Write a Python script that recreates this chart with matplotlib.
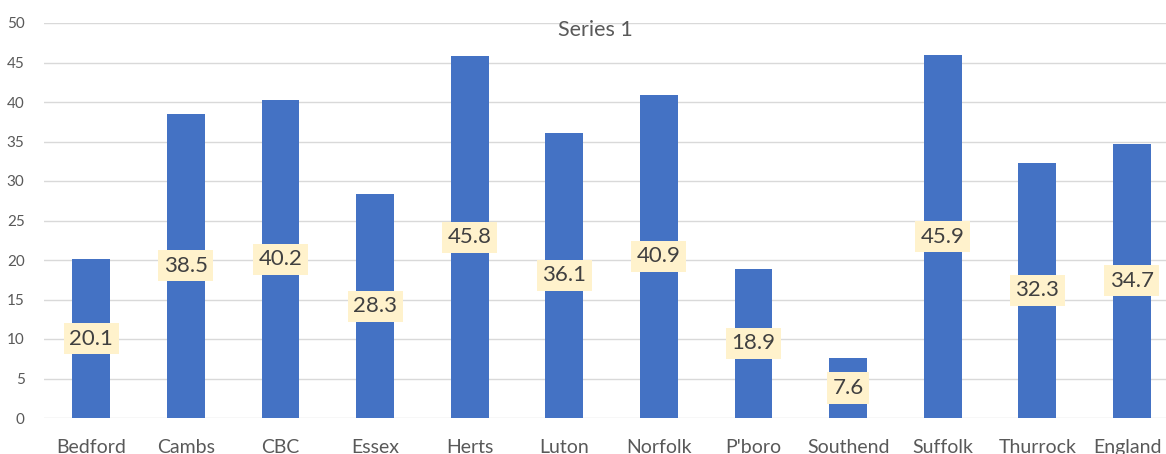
import numpy as np
import matplotlib.pyplot as plt
from matplotlib.transforms import ScaledTranslation

# data
areas = ["Bedford", "Cambs", "CBC", "Essex", "Herts", "Luton", "Norfolk",
         "P'boro", "Southend", "Suffolk", "Thurrock", "England"]
values = [20.1, 38.5, 40.2, 28.3, 45.8, 36.1, 40.9, 18.9, 7.6, 45.9, 32.3, 34.7]
y_ticks = list(range(0, 51, 5))

plt.rcParams['font.family'] = ['Lato', 'DejaVu Sans']
TXT = "#595959"

W, H = 1166, 454
fig = plt.figure(figsize=(W / 100, H / 100), dpi=100)
ax = fig.add_axes([44 / W, 36 / H, (W - 44) / W, 395 / H])

x = np.arange(len(areas))
ax.bar(x, values, width=0.4, color="#4472C4", zorder=3)

for xi, v in zip(x, values):
    ax.text(xi, v / 2, f"{v}", ha="center", va="center", fontsize=16,
            color="#404040", zorder=4,
            bbox=dict(boxstyle="square,pad=0.25", fc="#FFF2CC", ec="none"))

ax.set_xlim(-0.5, 11.36)
ax.set_ylim(0, 50)
ax.set_yticks(y_ticks)
ax.set_xticks(x)
ax.set_xticklabels(areas, fontsize=14, color=TXT)
ax.tick_params(axis="y", labelsize=11, colors=TXT, length=0, pad=14)
ax.tick_params(axis="x", length=0, pad=15)
ax.grid(axis="y", color="#D9D9D9", linewidth=1, zorder=0)
for s in ax.spines.values():
    s.set_visible(False)

# Excel nudges the last label inside the chart area
last = ax.get_xticklabels()[-1]
last.set_transform(last.get_transform() + ScaledTranslation(-0.04, 0, fig.dpi_scale_trans))

fig.text(595 / W, 1 - 30 / H, "Series 1", ha="center", va="center",
         fontsize=15.5, color=TXT)

fig.savefig("out.png", dpi=100)
